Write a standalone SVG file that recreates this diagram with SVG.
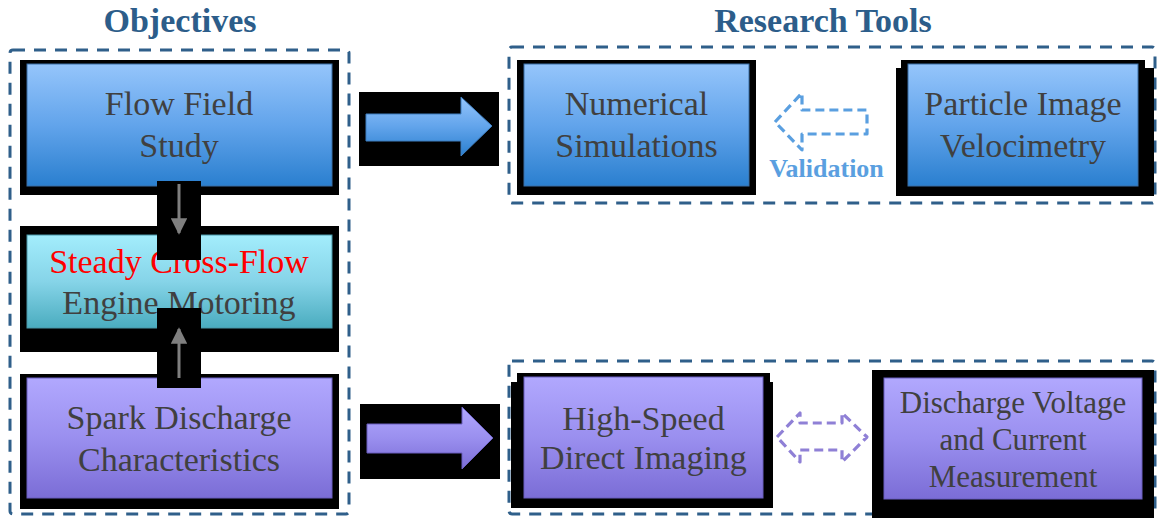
<svg xmlns="http://www.w3.org/2000/svg" width="1158" height="519" viewBox="0 0 1158 519">
<style>
.title{font-family:"Liberation Serif","Times New Roman",serif;font-weight:bold;font-size:34px;fill:#2c5d8a;text-anchor:middle}
.t{font-family:"Liberation Serif","Times New Roman",serif;font-size:34px;fill:#404040;text-anchor:middle}
.t2{font-family:"Liberation Serif","Times New Roman",serif;font-size:31px;fill:#404040;text-anchor:middle}
.red{fill:#ff0000}
.grp{fill:none;stroke:#2f5f8a;stroke-width:3;stroke-dasharray:12 9}
.blk{fill:#000}
.fb{fill:url(#gBlue);stroke:#3a6ea5;stroke-width:1}
.fc{fill:url(#gCyan);stroke:#4a98a8;stroke-width:1}
.fp{fill:url(#gPurp);stroke:#6a5fbf;stroke-width:1}
.gray{stroke:#7f7f7f;stroke-width:3;fill:none}
.val{fill:none;stroke:#5a9fe0;stroke-width:3.2;stroke-dasharray:9 5;stroke-linejoin:round}
.dbl{fill:none;stroke:#8f80d6;stroke-width:3.2;stroke-dasharray:9 5;stroke-linejoin:round}
</style>
<defs>
<linearGradient id="gBlue" x1="0" y1="0" x2="0" y2="1">
<stop offset="0" stop-color="#95c5fb"/><stop offset="0.5" stop-color="#62a4eb"/><stop offset="1" stop-color="#2a7fcf"/>
</linearGradient>
<linearGradient id="gCyan" x1="0" y1="0" x2="0" y2="1">
<stop offset="0" stop-color="#a3edfc"/><stop offset="0.5" stop-color="#86d4e8"/><stop offset="1" stop-color="#4aacbf"/>
</linearGradient>
<linearGradient id="gPurp" x1="0" y1="0" x2="0" y2="1">
<stop offset="0" stop-color="#b1a8fe"/><stop offset="0.5" stop-color="#9a8fef"/><stop offset="1" stop-color="#7b6dd6"/>
</linearGradient>
<marker id="ah" viewBox="0 0 10 10" refX="9" refY="5" markerWidth="5.5" markerHeight="5.5" markerUnits="strokeWidth" orient="auto">
<path d="M0,0 L10,5 L0,10 z" fill="#7f7f7f"/>
</marker>
</defs>
<rect width="1158" height="519" fill="#fff"/>

<text class="title" x="180" y="32">Objectives</text>
<text class="title" x="823" y="32">Research Tools</text>

<g id="groups">
<rect class="grp" x="10" y="50" width="339" height="464" rx="3"/>
<rect class="grp" x="509" y="47" width="646" height="156" rx="3"/>
<rect class="grp" x="509" y="361" width="646" height="153" rx="3"/>
</g>

<g id="node-flow">
<rect class="blk" x="20" y="60" width="319" height="135"/>
<rect class="fb" x="27" y="64" width="305" height="122"/>
<text class="t" x="179" y="115">Flow Field</text>
<text class="t" x="179" y="157">Study</text>
</g>

<g id="node-steady">
<rect class="blk" x="20" y="226" width="319" height="126"/>
<rect class="fc" x="27" y="235" width="305" height="93"/>
<text class="t red" x="179" y="273">Steady Cross-Flow</text>
<text class="t" x="179" y="314">Engine Motoring</text>
</g>

<g id="node-spark">
<rect class="blk" x="20" y="374" width="319" height="135"/>
<rect class="fp" x="27" y="378" width="305" height="120"/>
<text class="t" x="179" y="429">Spark Discharge</text>
<text class="t" x="179" y="471">Characteristics</text>
</g>

<g id="node-numerical">
<rect class="blk" x="517" y="60" width="239" height="135"/>
<rect class="fb" x="524" y="64" width="225" height="122"/>
<text class="t" x="636.5" y="115">Numerical</text>
<text class="t" x="636.5" y="157">Simulations</text>
</g>

<g id="node-piv">
<rect class="blk" x="901" y="60" width="244" height="10"/>
<rect class="blk" x="896" y="68" width="258" height="128"/>
<rect class="fb" x="908" y="64" width="230" height="122"/>
<text class="t" x="1023" y="115">Particle Image</text>
<text class="t" x="1023" y="157">Velocimetry</text>
</g>

<g id="node-highspeed">
<rect class="blk" x="517" y="373" width="253" height="10"/>
<rect class="blk" x="511" y="382" width="262" height="126"/>
<rect class="fp" x="524" y="377" width="239" height="121"/>
<text class="t" x="643.5" y="430">High-Speed</text>
<text class="t" x="643.5" y="469">Direct Imaging</text>
</g>

<g id="node-discharge">
<rect class="blk" x="872" y="370" width="282" height="148"/>
<rect class="fp" x="884" y="378" width="258" height="121"/>
<text class="t2" x="1013" y="413">Discharge Voltage</text>
<text class="t2" x="1013" y="450">and Current</text>
<text class="t2" x="1013" y="487">Measurement</text>
</g>

<g id="connectors">
<rect class="blk" x="157" y="181" width="44" height="79"/>
<line class="gray" x1="179" y1="184" x2="179" y2="233" marker-end="url(#ah)"/>
<rect class="blk" x="157" y="308" width="44" height="80"/>
<line class="gray" x1="179" y1="378" x2="179" y2="329" marker-end="url(#ah)"/>

<rect class="blk" x="359" y="92" width="140" height="74"/>
<polygon points="366,114 461,114 461,97 492,126 461,156 461,141 366,141" fill="url(#gBlue)" stroke="#3f7fc0" stroke-width="1"/>
<rect class="blk" x="360" y="404" width="140" height="75"/>
<polygon points="367,424 462,424 462,407 493,438 462,469 462,453 367,453" fill="url(#gPurp)" stroke="#6a5fbf" stroke-width="1"/>

<polygon class="val" points="775,122 802,93 802,110 867,110 867,134 802,134 802,150"/>
<text x="826.5" y="177" font-family="'Liberation Serif','Times New Roman',serif" font-weight="bold" font-size="26" fill="#5a9fe0" text-anchor="middle">Validation</text>

<polygon class="dbl" points="777,437 800,413 800,423 842,423 842,413 867,437 842,462 842,450 800,450 800,462"/>
</g>
</svg>
